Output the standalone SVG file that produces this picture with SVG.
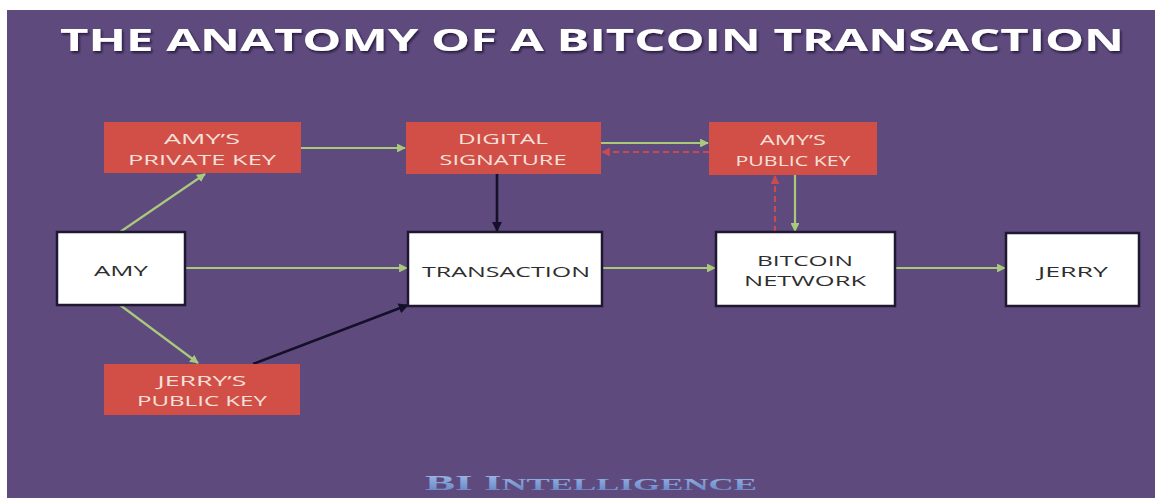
<svg xmlns="http://www.w3.org/2000/svg" width="1159" height="498" viewBox="0 0 1159 498">
  <style>
    .red rect { fill: #d24f47; }
    .red text { fill: #f6e0da; font-family: "Open Sans", "Liberation Sans", sans-serif; font-weight: 500; font-size: 14.5px; text-anchor: middle; }
    .white rect { fill: #ffffff; stroke: #1e1830; stroke-width: 2.5; }
    .white text { fill: #2e2e2e; font-family: "Open Sans", "Liberation Sans", sans-serif; font-weight: 500; font-size: 14.5px; text-anchor: middle; }
    .green { stroke: #a9c97d; stroke-width: 2.2; fill: none; marker-end: url(#ahGreen); }
    .dark { stroke: #14102a; stroke-width: 2.6; fill: none; marker-end: url(#ahDark); }
    .dash { stroke: #c84a52; stroke-width: 2.2; fill: none; stroke-dasharray: 6 4; marker-end: url(#ahRed); }
  </style>
  <defs>
    <marker id="ahGreen" viewBox="0 0 10 10" refX="9" refY="5" markerWidth="4" markerHeight="4" orient="auto">
      <path d="M0,0 L10,5 L0,10 z" fill="#a9c97d"/>
    </marker>
    <marker id="ahDark" viewBox="0 0 10 10" refX="9" refY="5" markerWidth="4" markerHeight="4" orient="auto">
      <path d="M0,0 L10,5 L0,10 z" fill="#14102a"/>
    </marker>
    <marker id="ahRed" viewBox="0 0 10 10" refX="9" refY="5" markerWidth="4" markerHeight="4" orient="auto">
      <path d="M0,0 L10,5 L0,10 z" fill="#c84a52"/>
    </marker>
    <filter id="titleShadow" x="-5%" y="-30%" width="110%" height="160%">
      <feDropShadow dx="1.5" dy="2" stdDeviation="1.2" flood-color="#1a1030" flood-opacity="0.8"/>
    </filter>
    <linearGradient id="brandFill" x1="0" y1="0" x2="0" y2="1">
      <stop offset="0" stop-color="#a9c4ee"/>
      <stop offset="1" stop-color="#5c7cc0"/>
    </linearGradient>
  </defs>

  <!-- backdrop -->
  <rect x="0" y="0" width="1159" height="498" fill="#ffffff"/>
  <rect x="7" y="10" width="1148" height="488" fill="#5f4a7e"/>

  <!-- heading -->
  <text x="592" y="51" fill="#ffffff" font-family="'Open Sans', 'Liberation Sans', sans-serif" font-weight="bold" font-size="31" text-anchor="middle" textLength="1064" lengthAdjust="spacingAndGlyphs" filter="url(#titleShadow)">THE ANATOMY OF A BITCOIN TRANSACTION</text>

  <!-- connectors -->
  <g id="connectors">
    <path class="green" d="M120,232 L205,174"/>
    <path class="green" d="M301,148 L405,148"/>
    <path class="green" d="M601,143 L708,143"/>
    <path class="dash" d="M709,152 L602,152"/>
    <path class="dark" d="M497,174 L497,231"/>
    <path class="green" d="M185,268 L407,268"/>
    <path class="green" d="M120,305 L198,363"/>
    <path class="dark" d="M253,364 L408,305"/>
    <path class="green" d="M602,268 L715,268"/>
    <path class="green" d="M795,175 L795,231"/>
    <path class="dash" d="M775,232 L775,176"/>
    <path class="green" d="M895,268 L1005,268"/>
  </g>

  <!-- nodes -->
  <g id="amys-private-key" class="red">
    <rect x="104" y="122" width="197" height="51"/>
    <text x="202" y="144" textLength="76" lengthAdjust="spacingAndGlyphs">AMY’S</text>
    <text x="202" y="164.5" textLength="148" lengthAdjust="spacingAndGlyphs">PRIVATE KEY</text>
  </g>
  <g id="digital-signature" class="red">
    <rect x="406" y="122" width="195" height="52"/>
    <text x="503" y="144" textLength="90" lengthAdjust="spacingAndGlyphs">DIGITAL</text>
    <text x="503" y="164.5" textLength="127" lengthAdjust="spacingAndGlyphs">SIGNATURE</text>
  </g>
  <g id="amys-public-key" class="red">
    <rect x="709" y="122" width="168" height="53"/>
    <text x="793" y="145" textLength="66" lengthAdjust="spacingAndGlyphs">AMY’S</text>
    <text x="793" y="165.5" textLength="115" lengthAdjust="spacingAndGlyphs">PUBLIC KEY</text>
  </g>
  <g id="jerrys-public-key" class="red">
    <rect x="104" y="364" width="196" height="51"/>
    <text x="202" y="386" textLength="89" lengthAdjust="spacingAndGlyphs">JERRY’S</text>
    <text x="202" y="406" textLength="130" lengthAdjust="spacingAndGlyphs">PUBLIC KEY</text>
  </g>
  <g id="amy" class="white">
    <rect x="57" y="232" width="128" height="73"/>
    <text x="121" y="276" textLength="54" lengthAdjust="spacingAndGlyphs">AMY</text>
  </g>
  <g id="transaction" class="white">
    <rect x="408" y="232" width="194" height="74"/>
    <text x="506" y="277" textLength="168" lengthAdjust="spacingAndGlyphs">TRANSACTION</text>
  </g>
  <g id="bitcoin-network" class="white">
    <rect x="716" y="232" width="179" height="74"/>
    <text x="805" y="266" textLength="96" lengthAdjust="spacingAndGlyphs">BITCOIN</text>
    <text x="805" y="286" textLength="122" lengthAdjust="spacingAndGlyphs">NETWORK</text>
  </g>
  <g id="jerry" class="white">
    <rect x="1006" y="233" width="133" height="73"/>
    <text x="1073" y="277" textLength="70" lengthAdjust="spacingAndGlyphs">JERRY</text>
  </g>

  <!-- footer brand -->
  <text x="425" y="490" fill="url(#brandFill)" font-family="'Liberation Serif', serif" font-weight="bold" font-size="22" textLength="332" lengthAdjust="spacingAndGlyphs">BI I<tspan font-size="17">NTELLIGENCE</tspan></text>
</svg>
